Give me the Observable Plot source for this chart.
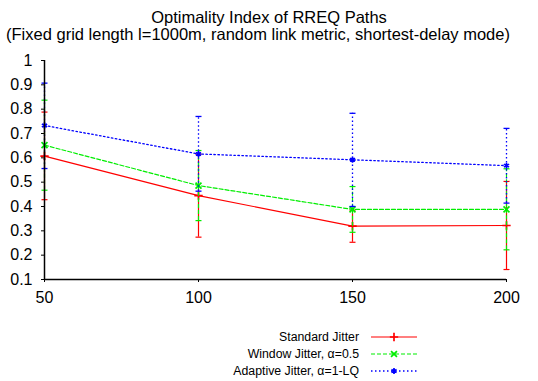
<!DOCTYPE html>
<html><head><meta charset="utf-8">
<script src="https://cdn.jsdelivr.net/npm/d3@7"></script>
<script src="https://cdn.jsdelivr.net/npm/@observablehq/plot@0.6"></script>
<style>body{margin:0;background:#fff} svg{display:block}</style>
</head><body><div id="chart"></div>
<script>
// ---- data ----
const xValues = [50, 100, 150, 200];
const seriesNames = ["Standard Jitter", "Window Jitter, \u03b1=0.5", "Adaptive Jitter, \u03b1=1-LQ"];
const standardMean = [0.607, 0.445, 0.319, 0.322];
const standardLow  = [0.428, 0.274, 0.253, 0.141];
const standardHigh = [0.788, 0.615, 0.385, 0.503];
const windowMean = [0.652, 0.486, 0.388, 0.388];
const windowLow  = [0.467, 0.342, 0.294, 0.222];
const windowHigh = [0.837, 0.630, 0.482, 0.555];
const adaptiveMean = [0.733, 0.616, 0.592, 0.568];
const adaptiveLow  = [0.556, 0.463, 0.400, 0.414];
const adaptiveHigh = [0.907, 0.770, 0.783, 0.721];
const yTicks = [0.1, 0.2, 0.3, 0.4, 0.5, 0.6, 0.7, 0.8, 0.9, 1];
const xTicks = [50, 100, 150, 200];
const titleLines = ["Optimality Index of RREQ Paths", "(Fixed grid length l=1000m, random link metric, shortest-delay mode)"];

// ---- styles ----
const styles = [
  {color: "#ff0000", dash: null, symbol: "plus", sw: 1.2},
  {color: "#00ee00", dash: "4,2", symbol: "times", sw: 1.2},
  {color: "#0000ff", dash: "1.5,2.5", symbol: "asterisk", sw: 1.3}
];

const means = [standardMean, windowMean, adaptiveMean];
const lows = [standardLow, windowLow, adaptiveLow];
const highs = [standardHigh, windowHigh, adaptiveHigh];
const series = seriesNames.map((name, i) => xValues.map((x, j) => ({name, x, y: means[i][j], lo: lows[i][j], hi: highs[i][j]})));

const capSymbol = {draw(ctx, size) { const r = Math.sqrt(size / Math.PI); ctx.moveTo(-r, 0); ctx.lineTo(r, 0); }};
const markerR = 2.8;

const marks = [];
series.forEach((data, i) => {
  const s = styles[i];
  marks.push(Plot.line(data, {x: "x", y: "y", stroke: s.color, strokeWidth: s.sw, strokeDasharray: s.dash}));
  marks.push(Plot.ruleX(data, {x: "x", y1: "lo", y2: "hi", stroke: s.color, strokeWidth: s.sw, strokeDasharray: s.dash}));
  marks.push(Plot.dot(data, {x: "x", y: "lo", symbol: capSymbol, r: 3, stroke: s.color, strokeWidth: s.sw}));
  marks.push(Plot.dot(data, {x: "x", y: "hi", symbol: capSymbol, r: 3, stroke: s.color, strokeWidth: s.sw}));
  marks.push(Plot.dot(data, {x: "x", y: "y", symbol: s.symbol, r: markerR, stroke: s.color, strokeWidth: 1.7}));
});

const chart = Plot.plot({
  width: 538, height: 381,
  marginTop: 60, marginBottom: 102, marginLeft: 44, marginRight: 32,
  style: {fontFamily: "'Liberation Sans', Arial, sans-serif", background: "#fff", color: "#000"},
  x: {domain: [50, 200]},
  y: {domain: [0.1, 1]},
  marks: [
    Plot.axisY({ticks: yTicks, tickFormat: d => String(+d.toFixed(1)), tickSize: 3, tickPadding: 9, fontSize: 16, label: null}),
    Plot.axisX({ticks: xTicks, tickFormat: d => String(d), tickSize: 3, tickPadding: 9, fontSize: 16, label: null}),
    ...marks,
    Plot.ruleX([50], {stroke: "#000", strokeWidth: 1.5}),
    Plot.ruleY([0.1], {stroke: "#000", strokeWidth: 1.5})
  ]
});

const svg = d3.select(chart);
// title
const titleX = [269, 258];
titleLines.forEach((t, i) => {
  svg.append("text").attr("x", titleX[i]).attr("y", 23 + i * 17).attr("text-anchor", "middle")
    .attr("font-size", 16.5).attr("fill", "#000").text(t);
});
// legend
const legendRowY = [337, 354, 371];
seriesNames.forEach((name, i) => {
  const s = styles[i], y = legendRowY[i];
  svg.append("text").attr("x", 359).attr("y", y).attr("dy", "0.35em").attr("text-anchor", "end")
    .attr("font-size", 12.3).attr("fill", "#000").text(name);
  svg.append("line").attr("x1", 371).attr("x2", 417).attr("y1", y).attr("y2", y)
    .attr("stroke", s.color).attr("stroke-width", s.sw).attr("stroke-dasharray", s.dash);
  const sym = {plus: d3.symbolPlus, times: d3.symbolTimes, asterisk: d3.symbolAsterisk}[s.symbol];
  svg.append("path").attr("transform", `translate(394,${y})`)
    .attr("d", d3.symbol(sym, markerR * markerR * Math.PI)()).attr("fill", "none")
    .attr("stroke", s.color).attr("stroke-width", 1.7);
});

document.getElementById("chart").appendChild(chart);
</script>
</body></html>
